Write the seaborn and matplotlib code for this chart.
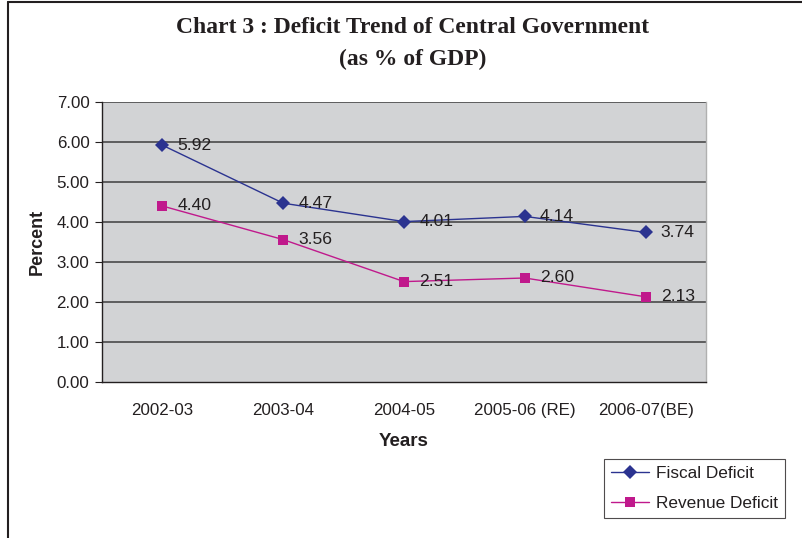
import matplotlib
matplotlib.use("Agg")
import matplotlib.pyplot as plt
import seaborn as sns
import pandas as pd
from matplotlib.lines import Line2D

years = ["2002-03", "2003-04", "2004-05", "2005-06 (RE)", "2006-07(BE)"]
fiscal_deficit = [5.92, 4.47, 4.01, 4.14, 3.74]
revenue_deficit = [4.40, 3.56, 2.51, 2.60, 2.13]
series_names = ["Fiscal Deficit", "Revenue Deficit"]
y_ticks = [0, 1, 2, 3, 4, 5, 6, 7]

df = pd.DataFrame({
    "Years": years * 2,
    "Percent": fiscal_deficit + revenue_deficit,
    "Series": [series_names[0]] * len(years) + [series_names[1]] * len(years),
})

sns.set_theme(style="white")
plt.rcParams['font.family'] = ['Liberation Sans', 'DejaVu Sans']

colors = {"Fiscal Deficit": "#2b3390", "Revenue Deficit": "#c0198c"}
markers = {"Fiscal Deficit": "D", "Revenue Deficit": "s"}

fig = plt.figure(figsize=(8.02, 5.38), dpi=100)
ax = fig.add_axes([102/802, 1-382/538, (706-102)/802, (382-102)/538])
ax.set_facecolor("#d2d3d5")

sns.lineplot(data=df, x="Years", y="Percent", hue="Series", style="Series",
             palette=colors, markers=markers, dashes=False, markersize=7,
             markeredgewidth=0, linewidth=1.0, ax=ax, legend=False, sort=False, zorder=3)

ax.set_xlim(-0.5, len(years) - 0.5)
ax.set_ylim(0, 7)
ax.set_yticks(y_ticks)
ax.set_yticklabels([f"{v:.2f}" for v in y_ticks], fontsize=12.2, color="#231f20")
ax.set_xticks(range(len(years)))
ax.set_xticklabels(years, fontsize=12.2, color="#231f20")
ax.set_xticks([i - 0.5 for i in range(len(years) + 1)], minor=True)
ax.tick_params(axis="x", which="major", length=0, pad=15)
ax.tick_params(axis="x", which="minor", length=5, width=0.8, color="#231f20", direction="out")
ax.tick_params(axis="y", length=5, width=0.8, color="#231f20", direction="out", pad=4, left=True)

for v in y_ticks[1:]:
    ax.axhline(v, color="#4a4a4a", linewidth=1.2, zorder=1)

for side in ["left", "bottom"]:
    ax.spines[side].set_color("#231f20")
    ax.spines[side].set_linewidth(1.0)
ax.spines["top"].set_visible(False)
ax.spines["right"].set_color("#b0b0b0")
ax.spines["right"].set_linewidth(1.0)

ax.set_xlabel("Years", fontsize=13.5, fontweight="bold", color="#231f20", labelpad=11)
ax.set_ylabel("Percent", fontsize=13, fontweight="bold", color="#231f20", labelpad=8)

for vals in (fiscal_deficit, revenue_deficit):
    for i, v in enumerate(vals):
        ax.annotate(f"{v:.2f}", (i, v), xytext=(11, 0), textcoords="offset points",
                    va="center", ha="left", fontsize=12.6, color="#231f20", zorder=4)

fig.text(0.515, 1-28/538, "Chart 3 : Deficit Trend of Central Government",
         ha="center", va="center", fontsize=17, fontweight="bold",
         family=["Liberation Serif", "DejaVu Serif"], color="#231f20")
fig.text(0.515, 1-59/538, "(as % of GDP)",
         ha="center", va="center", fontsize=17, fontweight="bold",
         family=["Liberation Serif", "DejaVu Serif"], color="#231f20")

handles = [Line2D([0], [0], color=colors[s], marker=markers[s], markersize=7,
                  markeredgewidth=0, linewidth=1.0) for s in series_names]
leg = fig.legend(handles, series_names, loc="lower left",
                 bbox_to_anchor=(604/802, 1-518/538), borderaxespad=0, fontsize=12.4,
                 frameon=True, fancybox=False, edgecolor="#231f20",
                 handlelength=2.2, handletextpad=0.4, labelspacing=0.85, borderpad=0.4)
leg.get_frame().set_linewidth(0.8)
for t in leg.get_texts():
    t.set_color("#231f20")

fig.add_artist(Line2D([8/802, 1], [1-2/538, 1-2/538], color="#231f20", linewidth=1.5))
fig.add_artist(Line2D([8/802, 8/802], [0, 1-2/538], color="#231f20", linewidth=1.5))

fig.savefig("out.png", dpi=100)
